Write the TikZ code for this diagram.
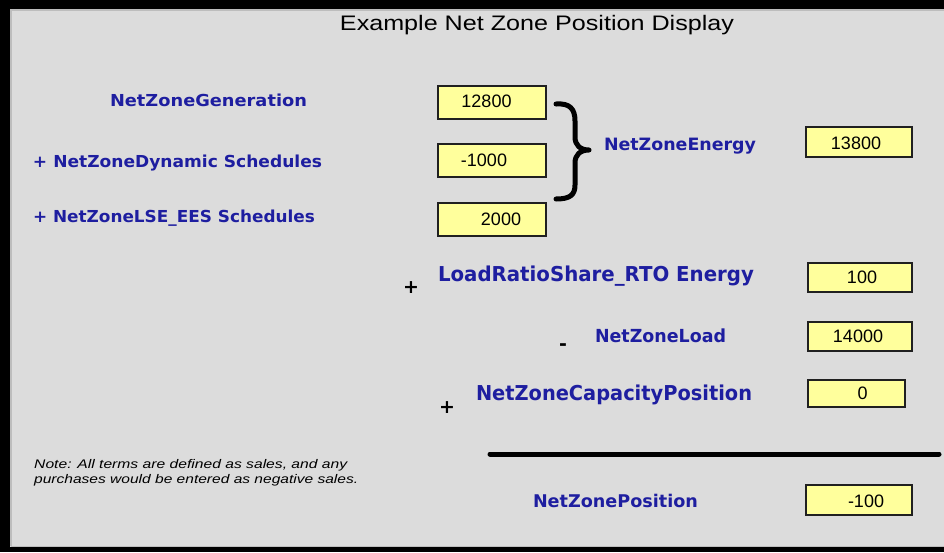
\documentclass[tikz,border=0pt]{standalone}
\usepackage{fontspec}
\usepackage{graphicx}
\setmainfont{Liberation Sans}
\newfontfamily\lblfont{DejaVu Sans}
\definecolor{bgray}{HTML}{DCDCDC}
\definecolor{bevel}{HTML}{BDBDBD}
\definecolor{lblblue}{HTML}{1E1EA0}
\definecolor{valyellow}{HTML}{FFFF9C}
\definecolor{valborder}{HTML}{202020}
\newcommand\fitw[2]{\resizebox{#1pt}{\height}{#2}}
\begin{document}
\begin{tikzpicture}[x=1pt,y=-1pt,
  lbl/.style={anchor=base west, inner sep=0pt, outer sep=0pt, text=lblblue,
    font=\lblfont\bfseries\fontsize{#1}{#1}\selectfont},
  opsign/.style={anchor=center, inner sep=0pt, text=black,
    font=\lblfont\bfseries\fontsize{19}{19}\selectfont},
  valbox/.style={draw=valborder, line width=1.5pt, fill=valyellow, inner sep=0pt},
  valtext/.style={anchor=center, inner sep=0pt, text=black,
    font=\fontsize{18}{18}\selectfont},
  notetext/.style={anchor=base west, inner sep=0pt, text=black,
    font=\itshape\fontsize{12.5}{12.5}\selectfont}
]
\useasboundingbox (0,0) rectangle (944,552);
% frame
\fill[black] (0,0) rectangle (944,552);
\fill[bgray] (10,9) rectangle (944,547);
\draw[bevel, line width=1.5pt] (11,546) -- (11,10) -- (944,10);
\draw[bevel, line width=1pt] (11,546) -- (944,546);

% title
\node[anchor=base, inner sep=0pt, font=\fontsize{21}{21}\selectfont] (title) at (537,30)
  {\fitw{394}{Example Net Zone Position Display}};

% labels
\node[lbl=16.5] (gen) at (110,106) {\fitw{197}{NetZoneGeneration}};
\node[lbl=16.5] (dyn) at (33,167) {\fitw{289}{+ NetZoneDynamic Schedules}};
\node[lbl=16.5] (lse) at (33,222.5) {\fitw{282}{+ NetZoneLSE\_EES Schedules}};
\node[lbl=17] (energy) at (604,150) {\fitw{152}{NetZoneEnergy}};
\node[lbl=20.5] (lrs) at (438,281) {\fitw{316}{LoadRatioShare\_RTO Energy}};
\node[lbl=18] (load) at (595,342) {\fitw{131}{NetZoneLoad}};
\node[lbl=20.5] (cap) at (476,400) {\fitw{276}{NetZoneCapacityPosition}};
\node[lbl=17.5] (pos) at (533,507) {\fitw{165}{NetZonePosition}};

% operator signs
\node[opsign] (plusA) at (411,287.5) {+};
\node[opsign] (minusB) at (563,347) {-};
\node[opsign] (plusC) at (447,408) {+};

% value boxes
\node[valbox, minimum width=108pt, minimum height=33pt] (b1) at (492,102.5) {};
\node[valbox, minimum width=108pt, minimum height=33pt] (b2) at (492,160.5) {};
\node[valbox, minimum width=108pt, minimum height=33pt] (b3) at (492,219.5) {};
\node[valbox, minimum width=106pt, minimum height=30pt] (b4) at (859,142) {};
\node[valbox, minimum width=104pt, minimum height=29pt] (b5) at (860,277.5) {};
\node[valbox, minimum width=104pt, minimum height=29pt] (b6) at (860,336.5) {};
\node[valbox, minimum width=97pt, minimum height=27pt] (b7) at (856.5,393.5) {};
\node[valbox, minimum width=106pt, minimum height=30pt] (b8) at (859,500) {};

\node[valtext] (t1) at ([shift={(-5.5,-1.5)}]b1.center) {12800};
\node[valtext] (t2) at ([shift={(-8,0)}]b2.center) {-1000};
\node[valtext] (t3) at ([shift={(9,0)}]b3.center) {2000};
\node[valtext] (t4) at ([shift={(-3,1)}]b4.center) {13800};
\node[valtext] (t5) at ([shift={(2,0)}]b5.center) {100};
\node[valtext] (t6) at ([shift={(-2,0)}]b6.center) {14000};
\node[valtext] (t7) at ([shift={(6,0)}]b7.center) {0};
\node[valtext] (t8) at ([shift={(7,1)}]b8.center) {-100};

% brace
\draw[line width=5pt, line cap=round, line join=round]
  (556,104) .. controls (570,103) and (575,109) .. (575,121)
  -- (575,137) .. controls (575,145) and (580,150) .. (589,150)
  .. controls (580,150) and (575,155) .. (575,163)
  -- (575,185) .. controls (575,195) and (570,199) .. (556,199);

% total line
\coordinate (lineL) at (490,454);
\coordinate (lineR) at (939,454);
\draw[line width=5pt, line cap=round] (lineL) -- (lineR);

% note
\node[notetext] (note1) at (34,468) {\fitw{313}{Note: All terms are defined as sales, and any}};
\node[notetext] (note2) at (34,483) {\fitw{324}{purchases would be entered as negative sales.}};
\end{tikzpicture}
\end{document}
